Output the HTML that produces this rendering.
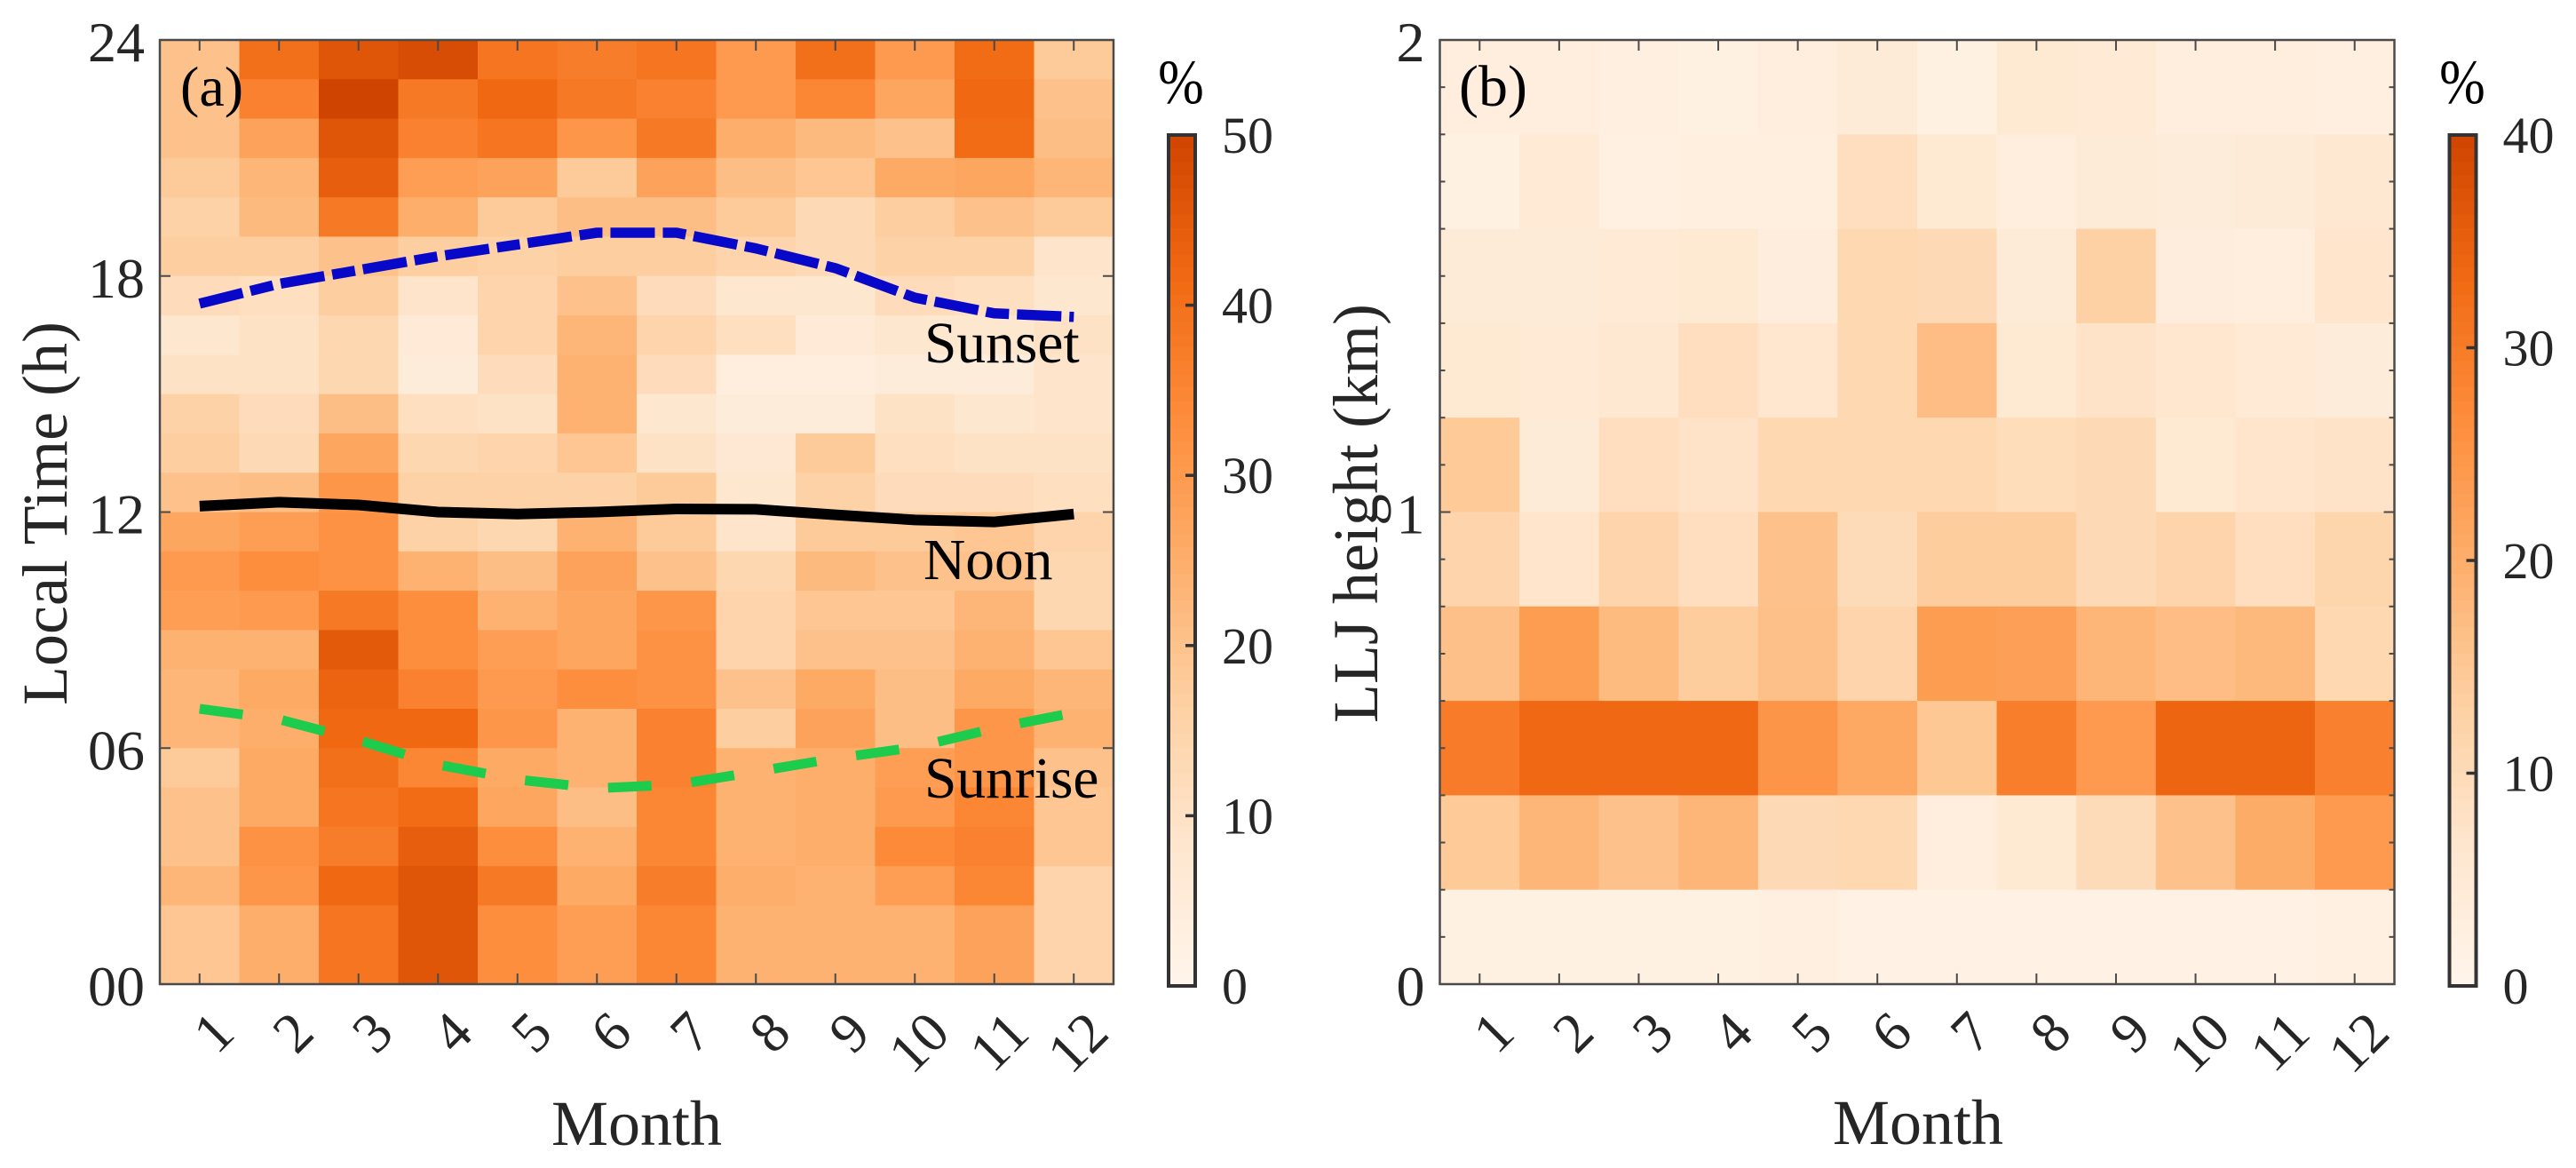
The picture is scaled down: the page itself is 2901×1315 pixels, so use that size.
<!DOCTYPE html>
<html lang="en">
<head>
<meta charset="utf-8">
<title>Low-level jet occurrence by month</title>
<style>
  html, body { margin: 0; padding: 0; background: #fff; }
  svg { display: block; font-family: "Liberation Serif", "Times New Roman", serif; }
  .tick-text { fill: #262626; font-size: 64px; }
  .cb-text { fill: #262626; font-size: 58px; }
  .axis-title { fill: #262626; font-size: 72px; }
  .note { fill: #000; font-size: 65.5px; }
</style>
</head>
<body>
<svg id="figure" xmlns="http://www.w3.org/2000/svg" width="2901" height="1315" viewBox="0 0 2901 1315">
  <rect x="0" y="0" width="2901" height="1315" fill="#ffffff"/>
  <g id="panel-a"></g>
  <g id="panel-b"></g>
  <g id="colorbar-a"></g>
  <g id="colorbar-b"></g>

  <text x="203" y="119" style="font-size:64px;fill:#000">(a)</text>
  <text x="1643" y="119" style="font-size:66px;fill:#000">(b)</text>
  <text class="note" x="1041" y="408">Sunset</text>
  <text class="note" x="1040" y="652">Noon</text>
  <text class="note" x="1041" y="898">Sunrise</text>

  <text class="axis-title" x="717" y="1289" text-anchor="middle">Month</text>
  <text class="axis-title" x="2160" y="1288" text-anchor="middle">Month</text>
  <text class="axis-title" text-anchor="middle" transform="translate(75 578) rotate(-90)">Local Time (h)</text>
  <text class="axis-title" text-anchor="middle" transform="translate(1551 578) rotate(-90)">LLJ height (km)</text>
  <text text-anchor="middle" transform="translate(1330 116) scale(1 1.14)" style="font-size:62px;fill:#000">%</text>
  <text text-anchor="middle" transform="translate(2773 116) scale(1 1.14)" style="font-size:62px;fill:#000">%</text>
</svg>

<script>
const months = [1, 2, 3, 4, 5, 6, 7, 8, 9, 10, 11, 12];

// Panel (a): percent per local-time hour, listed from hour 23 down to hour 0.
const localTimeValues = [
  [20,40,46,48,39,37,39,30,40,30,41,18],
  [20,36,50,38,42,38,36,30,35,27,42,20],
  [20,28,46,36,39,31,38,25,22,20,41,21],
  [18,23,44,29,28,18,28,21,19,26,27,23],
  [16,22,38,25,18,21,21,18,13,17,20,18],
  [17,17,20,17,16,17,17,15,13,16,16,9],
  [12,11,17,9,15,20,12,8,8,12,11,8],
  [8,10,14,6,15,23,15,11,6,8,8,10],
  [10,10,14,5,12,24,12,4,4,5,5,9],
  [16,12,21,11,10,24,8,5,5,10,8,9],
  [17,13,27,14,15,19,10,7,18,11,10,10],
  [20,21,31,16,16,16,18,8,16,12,12,11],
  [27,29,32,16,14,24,18,9,18,18,19,15],
  [30,33,32,24,21,28,20,14,22,20,20,14],
  [29,30,38,33,24,27,31,15,19,19,23,14],
  [24,24,45,33,29,27,32,15,20,20,24,19],
  [23,26,43,36,30,33,32,20,26,21,26,23],
  [23,25,42,42,31,24,36,17,28,21,31,24],
  [18,26,40,35,26,24,36,24,25,29,31,20],
  [20,26,39,41,27,21,35,24,25,30,35,19],
  [20,32,37,44,33,24,35,24,25,34,36,19],
  [23,31,42,46,38,26,37,25,24,29,35,15],
  [19,25,39,46,33,29,35,24,24,24,28,15],
  [19,25,39,46,33,29,35,24,24,24,28,15]
];

// Panel (b): percent per height bin, listed from 1.8-2.0 km down to 0-0.2 km.
const heightValues = [
  [3,3.3,2.5,2,3.3,4.5,2,5.5,5,3.3,3.3,2.5],
  [2,5,2.3,2.8,2.8,9,5.5,3,4.5,4,4.5,6],
  [4.5,4.5,5,5.5,3.5,11,10.5,4.5,13,3.5,3,7],
  [5.5,5,6,9,6.5,11,17,5.5,7.5,6.5,5,4],
  [14.5,4.5,9,7.5,11,11,11,9.5,10.5,5.5,7,7.5],
  [12,7,12,9,16,10,14,14,10.5,12,9,11.5],
  [16.5,23.5,17.5,14,16.5,12,23.5,23,18.5,17,18,11],
  [30,33.5,33.5,33.5,25,21,15,29.5,24,34,34,29],
  [14.5,18.5,16,18.5,10.5,11,3,5.5,10,16,20.5,24],
  [2,2,2,2,2.5,1.5,1.5,1.5,1.5,1.5,1.5,2.3]
];

const sunsetHours  = [17.3, 17.8, 18.15, 18.5, 18.8, 19.1, 19.1, 18.7, 18.2, 17.45, 17.05, 16.96];
const noonHours    = [12.15, 12.25, 12.18, 12.0, 11.95, 12.0, 12.08, 12.07, 11.93, 11.8, 11.75, 11.95];
const sunriseHours = [7.0, 6.73, 6.2, 5.58, 5.2, 4.98, 5.07, 5.4, 5.74, 6.02, 6.5, 6.9];

const hourTicks = [0, 6, 12, 18, 24];
const hourTickLabels = ['00', '06', '12', '18', '24'];
const heightTicks = [0, 1, 2];
const heightTickLabels = ['0', '1', '2'];
const colorbarATicks = [0, 10, 20, 30, 40, 50];
const colorbarBTicks = [0, 10, 20, 30, 40];

const colormapStops = ['#fff5eb', '#fee6ce', '#fdd0a2', '#fdae6b', '#fd8d3c', '#f16913', '#cf4400'];

const SVG_NS = 'http://www.w3.org/2000/svg';

function hexToRgb(hex) {
  return [parseInt(hex.slice(1, 3), 16), parseInt(hex.slice(3, 5), 16), parseInt(hex.slice(5, 7), 16)];
}
function colorAt(fraction) {
  const f = Math.max(0, Math.min(1, fraction)) * (colormapStops.length - 1);
  const i = Math.min(Math.floor(f), colormapStops.length - 2);
  const a = hexToRgb(colormapStops[i]);
  const b = hexToRgb(colormapStops[i + 1]);
  const t = f - i;
  return 'rgb(' + a.map(function (c, k) { return Math.round(c + (b[k] - c) * t); }).join(',') + ')';
}
function make(parent, tag, attrs, text) {
  const el = document.createElementNS(SVG_NS, tag);
  Object.keys(attrs).forEach(function (k) { el.setAttribute(k, attrs[k]); });
  if (text !== undefined) el.textContent = text;
  parent.appendChild(el);
  return el;
}

function drawPanel(group, box, matrix, colorMax, yMax, prefix) {
  const left = box.left, right = box.right, top = box.top, bottom = box.bottom;
  const xOfMonth = function (m) { return left + (m - 0.5) * (right - left) / months.length; };
  const yOfValue = function (v) { return bottom - v * (bottom - top) / yMax; };
  const rowCount = matrix.length;
  const cellW = (right - left) / months.length;
  const cellH = (bottom - top) / rowCount;

  matrix.forEach(function (row, r) {
    row.forEach(function (value, c) {
      const cell = make(group, 'rect', {
        x: (left + c * cellW).toFixed(2),
        y: (top + r * cellH).toFixed(2),
        width: (cellW + 0.6).toFixed(2),
        height: (cellH + 0.6).toFixed(2),
        fill: colorAt(value / colorMax)
      });
      
      
    });
  });

  return { xOfMonth: xOfMonth, yOfValue: yOfValue };
}

function drawFrame(group, box, scales, prefix, majorValues, majorLabels, minorValues) {
  const axisColor = '#4a4a4a';
  months.forEach(function (m) {
    const x = scales.xOfMonth(m);
    const tickBottom = make(group, 'line', { x1: x, x2: x, y1: box.bottom, y2: box.bottom - 12, stroke: axisColor, 'stroke-width': 2 });
    
    
    const tickTop = make(group, 'line', { x1: x, x2: x, y1: box.top, y2: box.top + 12, stroke: axisColor, 'stroke-width': 2 });
    
    
    const anchorX = x + 42;
    const label = make(group, 'text', {
      class: 'tick-text',
      'text-anchor': 'end',
      transform: 'translate(' + anchorX.toFixed(1) + ' 1166) rotate(-45)'
    }, String(m));
    
    
  });

  minorValues.forEach(function (v) {
    const y = scales.yOfValue(v);
    const minorLeft = make(group, 'line', { x1: box.left, x2: box.left + 6, y1: y, y2: y, stroke: axisColor, 'stroke-width': 2 });
    
    
    const minorRight = make(group, 'line', { x1: box.right, x2: box.right - 6, y1: y, y2: y, stroke: axisColor, 'stroke-width': 2 });
    
    
  });

  majorValues.forEach(function (v, i) {
    const y = scales.yOfValue(v);
    const majorLeft = make(group, 'line', { x1: box.left, x2: box.left + 12, y1: y, y2: y, stroke: axisColor, 'stroke-width': 2 });
    
    
    const majorRight = make(group, 'line', { x1: box.right, x2: box.right - 12, y1: y, y2: y, stroke: axisColor, 'stroke-width': 2 });
    
    
    const label = make(group, 'text', {
      class: 'tick-text',
      x: box.left - 17,
      y: y + 24,
      'text-anchor': 'end'
    }, majorLabels[i]);
    
    
  });

  const frame = make(group, 'rect', {
    x: box.left, y: box.top, width: box.right - box.left, height: box.bottom - box.top,
    fill: 'none', stroke: axisColor, 'stroke-width': 2.5
  });
  
  
}

function drawCurve(group, scales, values, color, width, dash, name) {
  const d = values.map(function (h, i) {
    return (i ? 'L' : 'M') + scales.xOfMonth(months[i]).toFixed(1) + ' ' + scales.yOfValue(h).toFixed(1);
  }).join(' ');
  const path = make(group, 'path', {
    d: d, fill: 'none', stroke: color, 'stroke-width': width,
    'stroke-linejoin': 'round', 'stroke-linecap': 'butt'
  });
  if (dash) path.setAttribute('stroke-dasharray', dash);
  
  
}

function drawColorbar(group, box, maxValue, ticks, prefix) {
  const levels = 64;
  const yOf = function (v) { return box.bottom - v * (box.bottom - box.top) / maxValue; };
  const h = (box.bottom - box.top) / levels;
  for (let i = 0; i < levels; i++) {
    const step = make(group, 'rect', {
      x: box.left, y: (box.top + i * h).toFixed(2), width: box.right - box.left, height: (h + 0.6).toFixed(2),
      fill: colorAt(1 - (i + 0.5) / levels)
    });
    
    
  }
  ticks.forEach(function (v) {
    const y = yOf(v);
    const tick = make(group, 'line', { x1: box.right, x2: box.right - 11, y1: y, y2: y, stroke: '#333333', 'stroke-width': 3.5 });
    
    
    const label = make(group, 'text', { class: 'cb-text', x: box.right + box.labelGap, y: y + 20 }, String(v));
    
    
  });
  const border = make(group, 'rect', {
    x: box.left, y: box.top, width: box.right - box.left, height: box.bottom - box.top,
    fill: 'none', stroke: '#333333', 'stroke-width': 4
  });
  
  
}

const boxA = { left: 180, right: 1254, top: 45, bottom: 1108 };
const boxB = { left: 1621.5, right: 2696.5, top: 45, bottom: 1108 };

const groupA = document.getElementById('panel-a');
const groupB = document.getElementById('panel-b');

const scalesA = drawPanel(groupA, boxA, localTimeValues, 50, 24, 'panel-a');
drawCurve(groupA, scalesA, sunsetHours, '#0808c8', 11.5, '50 9 26 9', 'sunset-line');
drawCurve(groupA, scalesA, noonHours, '#000000', 12, null, 'noon-line');
drawCurve(groupA, scalesA, sunriseHours, '#1dcb4d', 11, '49 45', 'sunrise-line');
drawFrame(groupA, boxA, scalesA, 'panel-a', hourTicks, hourTickLabels, []);

const scalesB = drawPanel(groupB, boxB, heightValues, 40, 2, 'panel-b');
const heightMinorTicks = [0.1, 0.2, 0.3, 0.4, 0.5, 0.6, 0.7, 0.8, 0.9, 1.1, 1.2, 1.3, 1.4, 1.5, 1.6, 1.7, 1.8, 1.9];
drawFrame(groupB, boxB, scalesB, 'panel-b', heightTicks, heightTickLabels, heightMinorTicks);

drawColorbar(document.getElementById('colorbar-a'), { left: 1316, right: 1346, top: 152, bottom: 1110, labelGap: 30 }, 50, colorbarATicks, 'colorbar-a');
drawColorbar(document.getElementById('colorbar-b'), { left: 2758.5, right: 2788.5, top: 152, bottom: 1110, labelGap: 30 }, 40, colorbarBTicks, 'colorbar-b');
</script>
</body>
</html>
